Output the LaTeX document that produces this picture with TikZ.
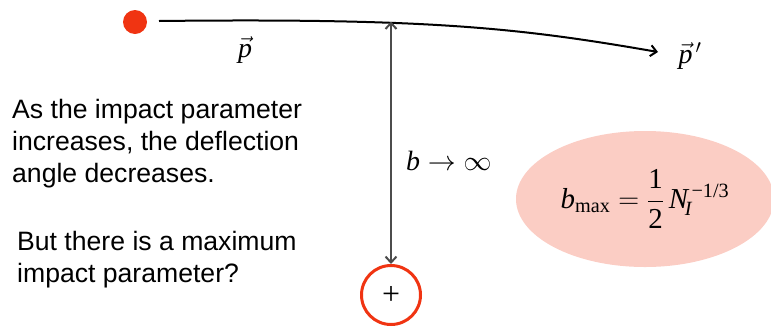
\RequirePackage{fix-cm}
\documentclass[tikz,border=0pt]{standalone}
\usepackage{amsmath}
\usepackage{fontspec}
\setmainfont{Liberation Sans}
\newfontfamily\tms{Liberation Serif}
\usetikzlibrary{arrows.meta,shapes.geometric}
\definecolor{dotred}{RGB}{240,52,18}
\definecolor{blobpink}{RGB}{251,205,196}
\newcommand{\tv}[1]{\text{\tms\itshape #1}}
\newcommand{\tr}[1]{\text{\tms #1}}
\tikzset{
    txt/.style={align=left,anchor=base west,font=\fontsize{26.7}{32}\selectfont,inner sep=0pt},
    mth/.style={font=\fontsize{28}{32}\selectfont,inner sep=0pt},
    barb/.tip={Straight Barb[length=6bp,width=11bp,line width=2bp]}
}
\begin{document}
\begin{tikzpicture}[x=1bp,y=-1bp]
        \useasboundingbox (0,0) rectangle (771,328);
        % incoming particle and deflected path
        \fill[dotred] (135,22) circle (12) coordinate (dot);
        \coordinate (pstart) at (159,21);
        \coordinate (pend) at (658,52);
        \draw[-barb,line width=2bp] (pstart) .. controls (430,18) and (520,28) .. (pend);
        \node[mth] (pin) at (245,50) {$\vec{\tv{p}}$};
        \node[mth] (pout) at (690,56) {$\vec{\tv{p}}\mkern2mu'$};
        % target nucleus and impact parameter
        \node[circle,draw=dotred,line width=3bp,minimum size=59bp,inner sep=0pt,font=\fontsize{32}{32}\selectfont] (nucleus) at (391,295) {\tms +};
        \coordinate (btop) at (391,21.5);
        \draw[barb-barb,line width=1.3bp,black!70] (btop) -- (nucleus.north);
        \node[mth,anchor=west] (blim) at (406,161) {$\tv{b} \rightarrow \infty$};
        % maximum impact parameter
        \node[ellipse,fill=blobpink,minimum width=258bp,minimum height=136bp] (blob) at (645,199) {};
        \node[mth,font=\fontsize{29}{32}\selectfont] (bmax) at (blob.center) {$\tv{b}_{\tr{max}} = \dfrac{\tr{1}}{\tr{2}}\,\tv{N}_{\!\tv{I}}^{\,\tr{\textminus 1/3}}$};
        % text
        \node[txt] (txta) at (12,182) {As the impact parameter\\increases, the deflection\\angle decreases.};
        \node[txt] (txtb) at (17,282) {But there is a maximum\\impact parameter?};
    \end{tikzpicture}
\end{document}
